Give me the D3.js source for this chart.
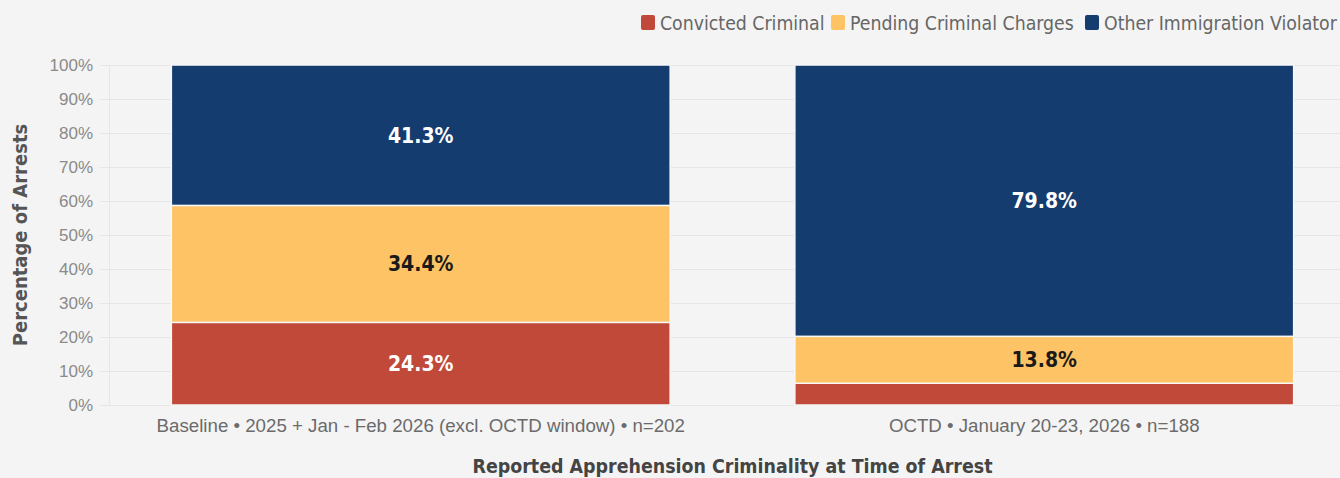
<!DOCTYPE html>
<html>
<head>
<meta charset="utf-8">
<script src="https://cdn.jsdelivr.net/npm/d3@7/dist/d3.min.js"></script>
<style>
  html, body { margin: 0; padding: 0; background: #f4f4f4; }
  svg { display: block; font-family: "DejaVu Sans Condensed", "Roboto", sans-serif; }
</style>
</head>
<body>
<svg id="chart" width="1340" height="478"></svg>
<script>
// Share of arrests by reported criminality, per period
const categories = [
  "Baseline \u2022 2025 + Jan - Feb 2026 (excl. OCTD window) \u2022 n=202",
  "OCTD \u2022 January 20-23, 2026 \u2022 n=188"
];
const seriesNames = ["Convicted Criminal", "Pending Criminal Charges", "Other Immigration Violator"];
const convicted = [24.3, 6.4];
const pending = [34.4, 13.8];
const otherViolator = [41.3, 79.8];
const yTicks = [0, 10, 20, 30, 40, 50, 60, 70, 80, 90, 100];

const colors = ["#c0493a", "#fdc364", "#153c6f"];
const labelColors = ["#ffffff", "#1a1a1a", "#ffffff"];

const svg = d3.select("#chart");
const W = 1340, H = 478;
const margin = { left: 109, right: -16, top: 65, bottom: 73 };

const rows = categories.map((c, i) => ({
  category: c,
  "Convicted Criminal": convicted[i],
  "Pending Criminal Charges": pending[i],
  "Other Immigration Violator": otherViolator[i]
}));

const x = d3.scaleBand()
  .domain(categories)
  .range([margin.left, W - margin.right])
  .paddingInner(0.2)
  .paddingOuter(0.1);

const y = d3.scaleLinear()
  .domain([0, 100])
  .range([H - margin.bottom, margin.top]);

const color = d3.scaleOrdinal().domain(seriesNames).range(colors);
const labelColor = d3.scaleOrdinal().domain(seriesNames).range(labelColors);

// Gridlines
const grid = svg.append("g")
  .attr("transform", `translate(${margin.left},0)`)
  .call(d3.axisLeft(y).tickValues(yTicks).tickSize(-(W - margin.left)).tickFormat(""));
grid.select(".domain").remove();
grid.selectAll(".tick line").attr("stroke", "#e6e6e6").attr("stroke-width", 1);

// Left axis with percentage labels
const yAxis = svg.append("g")
  .attr("transform", `translate(${margin.left},0)`)
  .call(d3.axisLeft(y).tickValues(yTicks).tickSize(9).tickPadding(7).tickFormat(d => d + "%"));
yAxis.select(".domain").attr("stroke", "#e6e6e6");
yAxis.selectAll(".tick line").attr("stroke", "#e6e6e6");
yAxis.selectAll(".tick text")
  .attr("fill", "#8a8a8a")
  .style("font-size", "17px");

// Stacked bars
const stack = d3.stack().keys(seriesNames);
const layers = stack(rows);

const layerG = svg.append("g").selectAll("g")
  .data(layers)
  .join("g")
  .attr("fill", d => color(d.key));

layerG.selectAll("rect")
  .data(d => d.map(v => Object.assign(v, { key: d.key })))
  .join("rect")
  .attr("x", d => x(d.data.category))
  .attr("width", x.bandwidth())
  .attr("y", d => y(d[1]))
  .attr("height", d => y(d[0]) - y(d[1]))
  .attr("stroke", "#f7f7f7")
  .attr("stroke-width", 1.5);

// Value labels inside segments large enough to hold them
svg.append("g").selectAll("g")
  .data(layers)
  .join("g")
  .selectAll("text")
  .data(d => d.filter(v => (v[1] - v[0]) >= 10).map(v => ({ v, key: d.key })))
  .join("text")
  .attr("x", d => x(d.v.data.category) + x.bandwidth() / 2)
  .attr("y", d => y((d.v[0] + d.v[1]) / 2))
  .attr("dy", "0.35em")
  .attr("text-anchor", "middle")
  .attr("fill", d => labelColor(d.key))
  .style("font-size", "21px")
  .style("font-weight", "bold")
  .text(d => (d.v[1] - d.v[0]).toFixed(1) + "%");

// Category axis
const xAxis = svg.append("g")
  .attr("transform", `translate(0,${H - margin.bottom})`)
  .call(d3.axisBottom(x).tickSize(0).tickPadding(14));
xAxis.select(".domain").remove();
xAxis.selectAll(".tick text")
  .attr("fill", "#6b6b6b")
  .style("font-size", "18.7px");

// Axis titles
svg.append("text")
  .attr("x", (margin.left + W - margin.right) / 2)
  .attr("y", 466)
  .attr("dy", "0.35em")
  .attr("text-anchor", "middle")
  .attr("fill", "#444")
  .style("font-size", "19.4px")
  .style("font-weight", "bold")
  .text("Reported Apprehension Criminality at Time of Arrest");

svg.append("text")
  .attr("transform", `translate(20,${(y(0) + y(100)) / 2}) rotate(-90)`)
  .attr("dy", "0.35em")
  .attr("text-anchor", "middle")
  .attr("fill", "#555")
  .style("font-size", "20px")
  .style("font-weight", "bold")
  .text("Percentage of Arrests");

// Legend
const legendX = [641, 831, 1085];
const legend = svg.append("g").selectAll("g")
  .data(seriesNames)
  .join("g")
  .attr("transform", (d, i) => `translate(${legendX[i]},15)`);
legend.append("rect")
  .attr("width", 14).attr("height", 15).attr("rx", 2)
  .attr("fill", d => color(d));
legend.append("text")
  .attr("x", 19).attr("y", 8)
  .attr("dy", "0.35em")
  .attr("fill", "#666")
  .style("font-size", "19.3px")
  .text(d => d);
</script>
</body>
</html>
